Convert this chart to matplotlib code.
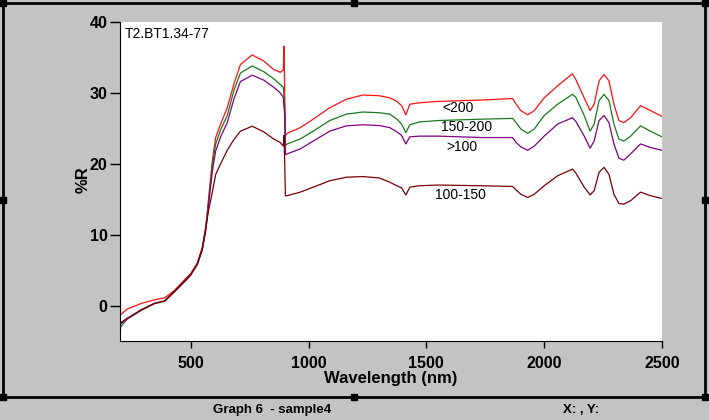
import numpy as np
import matplotlib
matplotlib.use("Agg")
import matplotlib.pyplot as plt
from matplotlib.patches import Rectangle

plt.rcParams['font.family'] = ['Liberation Sans', 'DejaVu Sans']

# wavelength grid (nm)
wavelength = [200, 203, 230, 290, 345, 390, 430, 485, 500, 528,
              549, 563, 570, 577, 592, 606, 627, 655, 683, 711,
              761, 810, 852, 880, 893, 896, 899, 902, 910, 965,
              1020, 1090, 1160, 1230, 1300, 1345, 1375, 1395, 1413, 1430,
              1470, 1550, 1740, 1866, 1881, 1901, 1930, 1958, 2000, 2057,
              2120, 2134, 2170, 2195, 2212, 2233, 2254, 2275, 2296, 2317,
              2338, 2367, 2409, 2451, 2500]

# %R for each size fraction
r_lt200 = [2.1, -1.3, -0.5, 0.3, 0.8, 1.1, 2.1, 4.0, 4.5, 6.0,
           8.2, 11.0, 13.0, 15.5, 20.5, 23.7, 25.6, 27.9, 31.2, 34.0,
           35.35, 34.5, 33.3, 32.9, 33.2, 36.6, 30.0, 24.0, 24.3, 25.1,
           26.3, 27.9, 29.1, 29.7, 29.6, 29.3, 28.8, 28.2, 26.9, 28.4,
           28.6, 28.8, 29.0, 29.2, 28.4, 27.5, 26.9, 27.5, 29.3, 31.0,
           32.7, 31.9, 29.3, 27.5, 28.4, 31.7, 32.6, 31.7, 28.4, 26.1,
           25.8, 26.5, 28.2, 27.5, 26.7]
r_150_200 = [-4.0, -3.0, -1.9, -0.7, 0.24, 0.6, 1.9, 3.75, 4.3, 5.8,
             7.9, 10.7, 12.7, 15.0, 19.8, 22.8, 24.8, 26.8, 30.3, 32.8,
             33.8, 33.0, 32.0, 31.2, 30.8, 29.5, 28.0, 22.6, 22.8, 23.5,
             24.6, 26.1, 27.0, 27.3, 27.2, 27.0, 26.3, 25.6, 24.4, 25.5,
             25.9, 26.1, 26.3, 26.4, 25.8, 24.9, 24.3, 24.9, 26.8, 28.4,
             29.8, 29.4, 26.8, 24.6, 25.6, 28.9, 29.8, 28.9, 25.6, 23.5,
             23.2, 23.9, 25.35, 24.6, 23.8]
r_gt100 = [-2.8, -2.6, -1.9, -0.6, 0.3, 0.65, 1.9, 3.75, 4.3, 5.8,
           7.8, 10.4, 12.3, 14.5, 19.0, 21.8, 23.8, 25.8, 29.1, 31.6,
           32.5, 31.8, 30.8, 30.0, 29.4, 28.0, 27.0, 21.3, 21.4, 22.1,
           23.2, 24.6, 25.35, 25.5, 25.4, 25.1, 24.5, 24.0, 22.8, 23.8,
           23.9, 23.9, 23.7, 23.7, 23.0, 22.4, 21.9, 22.5, 23.9, 25.6,
           26.5, 26.0, 23.9, 22.2, 23.2, 26.1, 26.8, 25.8, 22.8, 20.8,
           20.5, 21.4, 22.8, 22.3, 21.9]
r_100_150 = [-2.5, -2.4, -1.8, -0.6, 0.3, 0.7, 2.0, 3.9, 4.4, 5.9,
             8.0, 10.6, 12.3, 13.6, 16.0, 18.5, 20.0, 21.9, 23.4, 24.6,
             25.3, 24.5, 23.5, 23.0, 22.5, 24.0, 20.0, 15.5, 15.5, 16.0,
             16.7, 17.6, 18.1, 18.2, 18.0, 17.4, 16.9, 16.6, 15.6, 16.7,
             16.9, 17.0, 16.9, 16.8, 16.3, 15.7, 15.25, 15.7, 16.9, 18.3,
             19.25, 18.7, 16.7, 15.6, 16.2, 18.8, 19.5, 18.5, 15.7, 14.4,
             14.3, 14.8, 16.0, 15.5, 15.1]

series = [
    ("<200", r_lt200, "#ff1010"),
    ("150-200", r_150_200, "#1a7a1a"),
    (">100", r_gt100, "#800080"),
    ("100-150", r_100_150, "#7a0000"),
]

W, H = 709, 420
BG = "#c3c3c3"

fig = plt.figure(figsize=(W / 100, H / 100), dpi=100, facecolor=BG)


def fx(px):
    return px / W


def fy(py):
    return 1 - py / H


# window frame with the little black handles
fig.patches.append(Rectangle((fx(3), fy(397)), fx(702), 394 / H, transform=fig.transFigure,
                             fill=False, edgecolor="black", linewidth=2))
for hx in (3, 354, 705):
    for hy in (3, 200, 397):
        if hx == 354 and hy == 200:
            continue
        fig.patches.append(Rectangle((fx(hx - 3), fy(hy + 3)), fx(6), 6 / H,
                                     transform=fig.transFigure, color="black"))

ax = fig.add_axes([fx(120), fy(341), 542 / W, 319 / H])
ax.set_facecolor("white")

for name, vals, col in series:
    ax.plot(wavelength, vals, color=col, linewidth=0.9)

ax.set_xlim(200, 2500)
ax.set_ylim(-5, 40)
ax.set_xticks([500, 1000, 1500, 2000, 2500])
ax.set_yticks([0, 10, 20, 30, 40])
ax.spines['top'].set_visible(False)
ax.spines['right'].set_visible(False)
ax.tick_params(axis='y', direction='out', length=7, width=1, pad=2, labelsize=11.5)
ax.tick_params(axis='x', direction='out', length=5, width=1, pad=6, labelsize=11.5)
for lab in ax.get_xticklabels() + ax.get_yticklabels():
    lab.set_fontweight('bold')

# curve labels
label_pos = {"<200": (1633, 27.9), "150-200": (1671, 25.2), ">100": (1650, 22.3), "100-150": (1645, 15.65)}
for name, vals, col in series:
    x, y = label_pos[name]
    ax.text(x, y, name, ha='center', va='center', fontsize=10, color='black')

ax.text(0.009, 0.962, "T2.BT1.34-77", transform=ax.transAxes, ha='left', va='center', fontsize=10)

fig.text(fx(83), fy(180), "%R", rotation=90, ha='center', va='center', fontsize=12, fontweight='bold')
fig.text(fx(391), fy(378), "Wavelength (nm)", ha='center', va='center', fontsize=12, fontweight='bold')

fig.text(fx(272), fy(410), "Graph 6  - sample4", ha='center', va='center', fontsize=9.5, fontweight='bold')
fig.text(fx(581), fy(410), "X: , Y:", ha='center', va='center', fontsize=9.5, fontweight='bold')

fig.savefig("out.png", dpi=100, facecolor=BG)
